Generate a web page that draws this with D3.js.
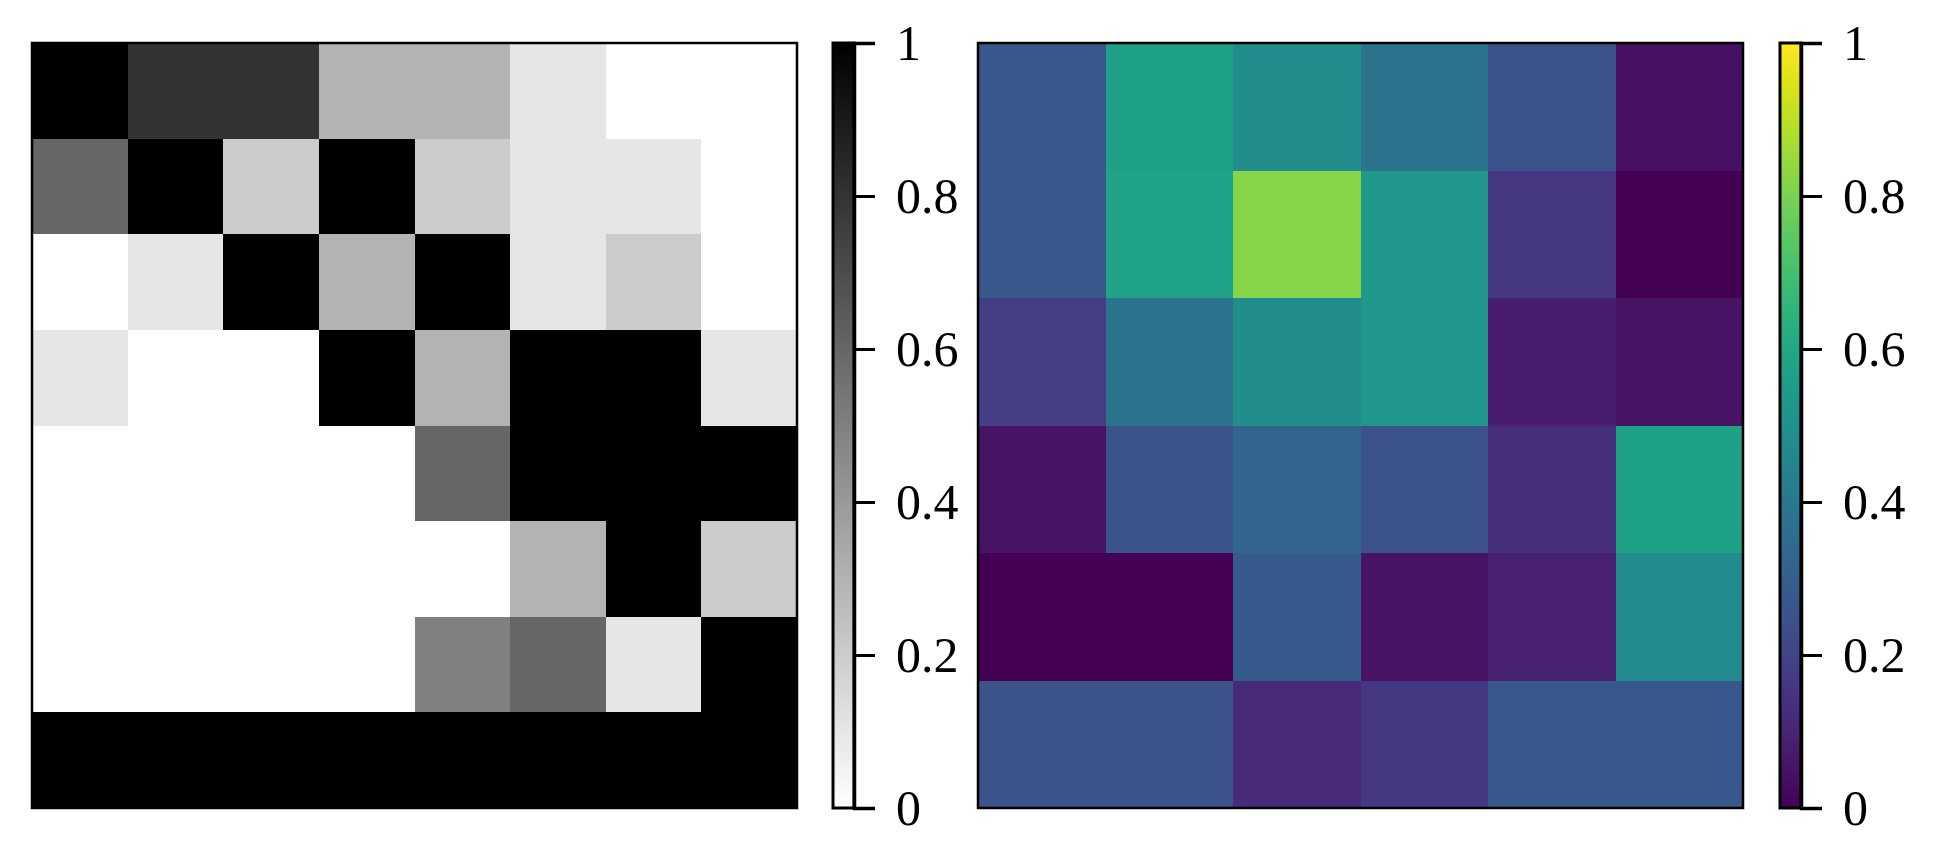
<!DOCTYPE html>
<meta charset="utf-8">
<head>
  <title>Two heatmaps</title>
</head>
<style>
body {
  margin: 0;
  background: white;
}
text {
  font-family: "Liberation Serif", "DejaVu Serif", serif;
  font-size: 50px;
  fill: black;
}
.cbar .tick line {
  stroke: black;
  stroke-width: 3px;
}
</style>
<body>
<div id="chart"></div>
<script src="https://cdnjs.cloudflare.com/ajax/libs/d3/7.8.5/d3.min.js"></script>
<script>
// left panel: 8x8 grid, binary colormap (0 white -> 1 black)
var gridLeft = [
  [1.0, 0.8, 0.8, 0.3, 0.3, 0.1, 0.0, 0.0],
  [0.6, 1.0, 0.2, 1.0, 0.2, 0.1, 0.1, 0.0],
  [0.0, 0.1, 1.0, 0.3, 1.0, 0.1, 0.2, 0.0],
  [0.1, 0.0, 0.0, 1.0, 0.3, 1.0, 1.0, 0.1],
  [0.0, 0.0, 0.0, 0.0, 0.6, 1.0, 1.0, 1.0],
  [0.0, 0.0, 0.0, 0.0, 0.0, 0.3, 1.0, 0.2],
  [0.0, 0.0, 0.0, 0.0, 0.5, 0.6, 0.1, 1.0],
  [1.0, 1.0, 1.0, 1.0, 1.0, 1.0, 1.0, 1.0]
];

// right panel: 6x6 grid, viridis colormap
var gridRight = [
  [0.27, 0.57, 0.49, 0.38, 0.25, 0.04],
  [0.27, 0.58, 0.82, 0.53, 0.16, 0.00],
  [0.18, 0.38, 0.49, 0.53, 0.08, 0.05],
  [0.05, 0.25, 0.32, 0.25, 0.13, 0.57],
  [0.00, 0.00, 0.28, 0.05, 0.09, 0.48],
  [0.25, 0.25, 0.12, 0.16, 0.27, 0.27]
];

var cbarTicks = [0, 0.2, 0.4, 0.6, 0.8, 1];

var width = 1935, height = 854;
var plotTop = 43, size = 765;

var svg = d3.select("#chart")
  .append("svg")
  .attr("width", width)
  .attr("height", height);

var defs = svg.append("defs");

function drawPanel(grid, interp, heatX, cbarX, gradId) {
  var n = grid.length;
  var cells = [];
  grid.forEach(function(row, i) {
    row.forEach(function(v, j) { cells.push({r: i, c: j, v: v}); });
  });

  var x = d3.scaleBand().domain(d3.range(n)).range([heatX, heatX + size]);
  var y = d3.scaleBand().domain(d3.range(n)).range([plotTop, plotTop + size]);
  var color = d3.scaleSequential(interp).domain([0, 1]);

  var g = svg.append("g");
  g.selectAll("rect.cell")
    .data(cells)
    .enter()
    .append("rect")
    .attr("class", "cell")
    .attr("x", function(d) { return x(d.c); })
    .attr("y", function(d) { return y(d.r); })
    .attr("width", x.bandwidth() + 0.5)
    .attr("height", y.bandwidth() + 0.5)
    .attr("fill", function(d) { return color(d.v); })
    .attr("shape-rendering", "crispEdges");

  g.append("rect")
    .attr("x", heatX)
    .attr("y", plotTop)
    .attr("width", size)
    .attr("height", size)
    .attr("fill", "none")
    .attr("stroke", "black")
    .attr("stroke-width", 2.5);

  // colorbar gradient
  var grad = defs.append("linearGradient")
    .attr("id", gradId)
    .attr("x1", 0).attr("y1", 1)
    .attr("x2", 0).attr("y2", 0);
  grad.selectAll("stop")
    .data(d3.range(0, 1.0001, 0.05))
    .enter()
    .append("stop")
    .attr("offset", function(d) { return d; })
    .attr("stop-color", function(d) { return color(d); });

  var cbarW = 21;
  var cy = d3.scaleLinear().domain([0, 1]).range([plotTop + size, plotTop]);

  svg.append("rect")
    .attr("x", cbarX)
    .attr("y", plotTop)
    .attr("width", cbarW)
    .attr("height", size)
    .attr("fill", "url(#" + gradId + ")")
    .attr("stroke", "black")
    .attr("stroke-width", 3);

  var axis = svg.append("g")
    .attr("class", "cbar")
    .attr("transform", "translate(" + (cbarX + cbarW) + ",0)")
    .call(d3.axisRight(cy).tickValues(cbarTicks).tickSize(21).tickPadding(21).tickFormat(d3.format("")));
  axis.select(".domain").attr("stroke", "black").attr("stroke-width", 3.5);
  axis.selectAll("text").attr("fill", "black").style("font-size", "50px")
    .style("font-family", "'Liberation Serif', serif");
}

drawPanel(gridLeft, d3.interpolateRgb("#ffffff", "#000000"), 32, 833, "gradBinary");
drawPanel(gridRight, d3.interpolateViridis, 978, 1780, "gradViridis");
</script>
</body>
</html>
